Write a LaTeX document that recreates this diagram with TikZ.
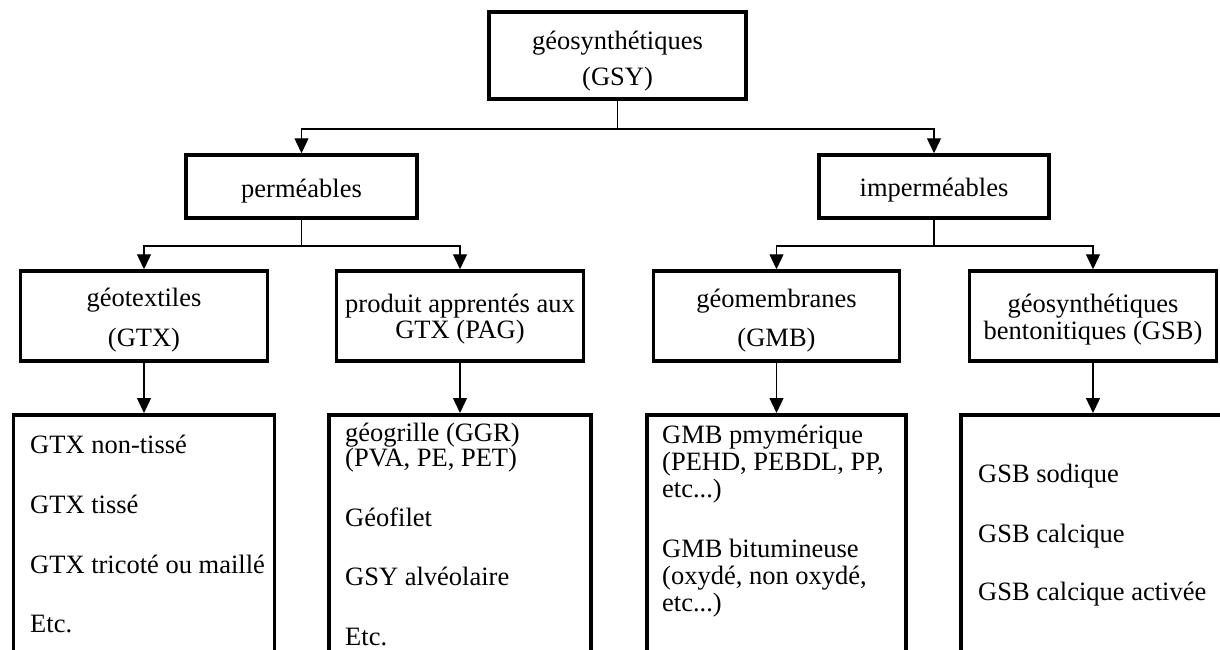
\documentclass[tikz,border=0pt]{standalone}
\usepackage{fontspec}
\setmainfont{Liberation Serif}
\usetikzlibrary{arrows.meta}
\begin{document}
\begin{tikzpicture}[x=1pt,y=-1pt,
  box/.style={draw, line width=3.5pt, rectangle, inner sep=0pt},
  conn/.style={line width=1.3pt, -{Triangle[length=15pt,width=14pt]}},
  plain/.style={line width=1.3pt},
  lbl/.style={font=\fontsize{26.5}{27}\selectfont, inner sep=0pt, anchor=base},
  item/.style={font=\fontsize{26.5}{27}\selectfont, inner sep=0pt, anchor=base west}]
\path[use as bounding box, fill=white] (0,0) rectangle (1220,649);
\clip (0,0) rectangle (1220,649);
% boxes
\node[box, minimum width=257, minimum height=87] (gsy) at (617.5,55.5) {};
\node[box, minimum width=231, minimum height=63] (perm) at (301.5,186.5) {};
\node[box, minimum width=230, minimum height=63] (imperm) at (934,186.5) {};
\node[box, minimum width=247, minimum height=90] (gtx) at (144,316) {};
\node[box, minimum width=247, minimum height=90] (pag) at (460,316) {};
\node[box, minimum width=246, minimum height=90] (gmb) at (776.5,316) {};
\node[box, minimum width=247, minimum height=90] (gsb) at (1093,316) {};
\node[box, minimum width=261, minimum height=300, anchor=north] (l1) at (144,413) {};
\node[box, minimum width=262, minimum height=300, anchor=north] (l2) at (460,413) {};
\node[box, minimum width=259, minimum height=300, anchor=north] (l3) at (776.5,413) {};
\node[box, minimum width=264, minimum height=300, anchor=north] (l4) at (1093,413) {};
% labels
\node[lbl] (t0a) at (617.5,49) {géosynthétiques};
\node[lbl] (t0b) at (617.5,85) {(GSY)};
\node[lbl] (t1) at (301.5,197) {perméables};
\node[lbl] (t2) at (934,196) {imperméables};
\node[lbl] (t3a) at (144,306) {géotextiles};
\node[lbl] (t3b) at (144,346) {(GTX)};
\node[lbl] (t4a) at (460,312) {produit apprentés aux};
\node[lbl] (t4b) at (460,338) {GTX (PAG)};
\node[lbl] (t5a) at (776.5,307) {géomembranes};
\node[lbl] (t5b) at (776.5,346) {(GMB)};
\node[lbl] (t6a) at (1093,312) {géosynthétiques};
\node[lbl] (t6b) at (1093,339) {bentonitiques (GSB)};
% lists
\node[item] (a1) at (30,453) {GTX non-tissé};
\node[item] (a2) at (30,513) {GTX tissé};
\node[item] (a3) at (30,573) {GTX tricoté ou maillé};
\node[item] (a4) at (30,632) {Etc.};
\node[item] (b1) at (345,441) {géogrille (GGR)};
\node[item] (b2) at (345,466) {(PVA, PE, PET)};
\node[item] (b3) at (345,526) {Géofilet};
\node[item] (b4) at (345,585) {GSY alvéolaire};
\node[item] (b5) at (345,645) {Etc.};
\node[item] (c1) at (662,443) {GMB pmymérique};
\node[item] (c2) at (662,470) {(PEHD, PEBDL, PP,};
\node[item] (c3) at (662,497) {etc...)};
\node[item] (c4) at (662,557) {GMB bitumineuse};
\node[item] (c5) at (662,584) {(oxydé, non oxydé,};
\node[item] (c6) at (662,611) {etc...)};
\node[item] (d1) at (978,482) {GSB sodique};
\node[item] (d2) at (978,542) {GSB calcique};
\node[item] (d3) at (978,600) {GSB calcique activée};
% connectors
\coordinate (j0) at (617.5,129);
\draw[plain] (gsy.south) -- (j0);
\draw[conn] (j0) -| (perm.north);
\draw[conn] (j0) -| (imperm.north);
\coordinate (j1) at (301.5,246);
\draw[plain] (perm.south) -- (j1);
\draw[conn] (j1) -| (gtx.north);
\draw[conn] (j1) -| (pag.north);
\coordinate (j2) at (934,246);
\draw[plain] (imperm.south) -- (j2);
\draw[conn] (j2) -| (gmb.north);
\draw[conn] (j2) -| (gsb.north);
\draw[conn] (gtx.south) -- (l1.north);
\draw[conn] (pag.south) -- (l2.north);
\draw[conn] (gmb.south) -- (l3.north);
\draw[conn] (gsb.south) -- (l4.north);
\end{tikzpicture}
\end{document}
